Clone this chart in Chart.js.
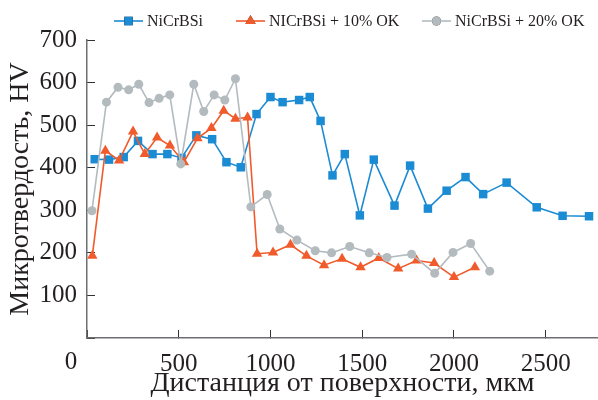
<!DOCTYPE html>
<html><head><meta charset="utf-8">
<style>html,body{margin:0;padding:0;background:#fff}#wrap{width:598px;height:400px}</style>
<script src="https://cdn.jsdelivr.net/npm/chart.js@4/dist/chart.umd.min.js"></script>
</head><body><div id="wrap"><canvas id="c" width="598" height="400"></canvas></div>
<script>
const seriesNames = ['NiCrBSi', 'NICrBSi + 10% OK', 'NiCrBSi + 20% OK'];
const xTickValues = [0, 500, 1000, 1500, 2000, 2500];
const yTickValues = [0, 100, 200, 300, 400, 500, 600, 700];
const originLabel = '0';

const blueX = [42,120,200,278,357,438,515,596,682,760,838,924,1000,1066,1156,1214,1273,1338,1405,1487,1563,1676,1761,1858,1960,2063,2159,2287,2451,2592,2736];
const blueY = [420,419,425,463,432,432,423,476,467,413,401,526,566,554,559,566,510,382,432,288,419,311,405,304,346,378,338,365,307,287,286];

const orangeX = [29,100,175,251,315,382,452,528,602,678,745,809,875,927,1014,1109,1196,1292,1390,1491,1590,1696,1796,1892,2000,2114];
const orangeY = [193,440,417,485,432,471,452,413,469,493,534,515,518,198,201,219,193,171,186,166,188,163,182,176,143,166];

const grayX = [27,106,169,227,282,338,393,451,511,582,636,693,751,809,893,982,1051,1144,1244,1333,1432,1538,1635,1769,1895,1995,2091,2195];
const grayY = [299,554,589,583,596,553,563,571,409,596,532,571,559,609,308,337,256,230,205,200,215,200,189,197,152,201,222,157];

const colors = ['#1b8bd4', '#f15a2b', '#b3bbbf'];
const styles = ['rect', 'triangle', 'circle'];
const radii = [6, 6, 4.5];

function pts(xs, ys) { return xs.map((x, i) => ({x: x, y: ys[i]})); }

const serif = '"Liberation Serif", "Times New Roman", serif';

const legendPlugin = {
  id: 'customLegend',
  afterDraw(chart) {
    const ctx = chart.ctx;
    const starts = [114, 236, 422];
    const y = 21;
    ctx.save();
    chart.data.datasets.forEach((ds, i) => {
      const x0 = starts[i];
      ctx.strokeStyle = ds.borderColor;
      ctx.lineWidth = 1.6;
      ctx.beginPath(); ctx.moveTo(x0, y); ctx.lineTo(x0 + 29, y); ctx.stroke();
      Chart.helpers.drawPoint(ctx, {pointStyle: ds.pointStyle, radius: ds.pointRadius, rotation: 0, borderWidth: 0}, x0 + 14.5, y);
      ctx.fillStyle = ds.pointBackgroundColor;
      ctx.fill();
      ctx.fillStyle = '#231f20';
      ctx.font = '16px ' + serif;
      ctx.textBaseline = 'middle';
      ctx.textAlign = 'left';
      ctx.fillText(ds.label, x0 + 33, y + 1);
    });
    // shared origin label, set left of the corner as in the reference
    const xs = chart.scales.x, ys = chart.scales.y;
    ctx.fillStyle = '#231f20';
    ctx.font = '25px ' + serif;
    ctx.textAlign = 'center';
    ctx.textBaseline = 'middle';
    ctx.fillText(originLabel, xs.getPixelForValue(0) - 16, ys.getPixelForValue(0) + 24);
    ctx.restore();
  }
};

const seriesX = [blueX, orangeX, grayX];
const seriesY = [blueY, orangeY, grayY];

new Chart(document.getElementById('c'), {
  type: 'line',
  data: {
    datasets: seriesNames.map((name, i) => ({
      label: name,
      data: pts(seriesX[i], seriesY[i]),
      borderColor: colors[i],
      backgroundColor: colors[i],
      pointBackgroundColor: colors[i],
      pointBorderColor: colors[i],
      pointBorderWidth: 0,
      pointStyle: styles[i],
      pointRadius: radii[i],
      pointHoverRadius: radii[i],
      borderWidth: 1.6,
      tension: 0,
      fill: false,
      order: [3, 2, 1][i]
    }))
  },
  options: {
    responsive: false,
    devicePixelRatio: 1,
    animation: false,
    events: [],
    layout: {autoPadding: false, padding: {top: 40, left: 0, right: 0, bottom: 0}},
    plugins: {legend: {display: false}, tooltip: {enabled: false}},
    scales: {
      x: {
        type: 'linear',
        min: 0, max: 2785,
        afterBuildTicks: s => { s.ticks = xTickValues.map(v => ({value: v})); },
        afterFit: s => { s.height = 62; s.paddingLeft = 0; s.paddingRight = 0; },
        grid: {drawOnChartArea: false, drawTicks: true, tickLength: -8, tickColor: '#333', lineWidth: 1},
        border: {display: true, color: '#6d6e71', width: 1.5},
        ticks: {font: {family: serif, size: 25}, color: '#231f20', padding: 19, maxRotation: 0, autoSkip: false,
                callback: v => v === 0 ? '' : String(v)},
        title: {display: true, text: 'Дистанция от поверхности, мкм', font: {family: serif, size: 28}, color: '#231f20', padding: {top: 0, bottom: 0}}
      },
      y: {
        type: 'linear',
        min: 0, max: 700,
        afterBuildTicks: s => { s.ticks = yTickValues.map(v => ({value: v})); },
        afterFit: s => { s.width = 87; },
        grid: {drawOnChartArea: false, drawTicks: true, tickLength: -8, tickColor: '#333', lineWidth: 1},
        border: {display: true, color: '#6d6e71', width: 1.5},
        ticks: {font: {family: serif, size: 25}, color: '#231f20', padding: 18, callback: v => v === 0 ? '' : String(v)},
        title: {display: true, text: 'Микротвердость, HV', font: {family: serif, size: 28}, color: '#231f20', padding: {top: 4, bottom: 0}}
      }
    }
  },
  plugins: [legendPlugin]
});
</script></body></html>
